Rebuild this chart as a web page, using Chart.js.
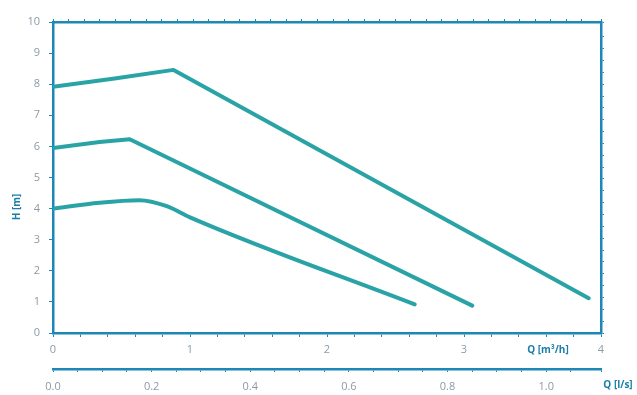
<!DOCTYPE html>
<html>
<head>
<meta charset="utf-8">
<title>Pump curves</title>
<script src="https://cdn.jsdelivr.net/npm/chart.js@4/dist/chart.umd.min.js"></script>
<style>
    html, body { margin: 0; padding: 0; background: #ffffff; }
    canvas { display: block; }
</style>
</head>
<body>
<canvas id="pumpChart" width="637" height="395"></canvas>
<script>
/*global Chart, document*/
'use strict';

// ------------------------------------------------------- //
// Data (Q in m3/h, H in m)
// ------------------------------------------------------ //
var flowHigh = [0, 0.45, 0.88, 3.91];
var headHigh = [7.92, 8.18, 8.46, 1.12];

var flowMid = [0, 0.34, 0.56, 3.06];
var headMid = [5.95, 6.14, 6.23, 0.88];

var flowLow = [0, 0.34, 0.63, 0.83, 1.0, 2.64];
var headLow = [4.0, 4.19, 4.27, 4.08, 3.72, 0.92];

var headTicks = [0, 1, 2, 3, 4, 5, 6, 7, 8, 9, 10];
var flowLabels = [0, 1, 2, 3, 4];
var litreLabels = [0, 0.2, 0.4, 0.6, 0.8, 1.0];

// Template colors
var curveColor = '#2aa3a6';
var axisColor = '#1d88b6';
var tickText = '#8c9ba6';
var titleColor = '#1a7eaa';

function toPoints(xs, ys) {
    var pts = [];
    for (var i = 0; i < xs.length; i++) {
        pts.push({x: xs[i], y: ys[i]});
    }
    return pts;
}

function inList(list, v) {
    for (var i = 0; i < list.length; i++) {
        if (Math.abs(list[i] - v) < 1e-6) {
            return true;
        }
    }
    return false;
}

function curve(label, xs, ys, smooth) {
    return {
        label: label,
        data: toPoints(xs, ys),
        borderColor: curveColor,
        backgroundColor: curveColor,
        borderWidth: 4,
        borderCapStyle: 'round',
        borderJoinStyle: 'round',
        pointRadius: 0,
        fill: false,
        cubicInterpolationMode: smooth ? 'monotone' : 'default',
        tension: 0
    };
}

function axisGrid(len) {
    return {
        drawOnChartArea: false,
        color: axisColor,
        lineWidth: 1,
        tickLength: len
    };
}

var axisBorder = { color: axisColor, width: 2.5 };
var tickFont = { family: 'Open Sans', size: 11 };

// ------------------------------------------------------- //
// Axis titles
// ------------------------------------------------------ //
var axisTitles = {
    id: 'axisTitles',
    afterDraw: function (chart) {
        var ctx = chart.ctx;
        var area = chart.chartArea;
        ctx.save();
        ctx.fillStyle = titleColor;
        ctx.font = 'bold 10px "Open Sans"';
        ctx.textBaseline = 'middle';
        ctx.textAlign = 'center';
        ctx.fillText('Q [m\u00b3/h]', area.right - 53, area.bottom + 17);
        ctx.fillText('Q [l/s]', area.right + 17, area.bottom + 52);
        ctx.translate(17, 207);
        ctx.rotate(-Math.PI / 2);
        ctx.fillText('H [m]', 0, 0);
        ctx.restore();
    }
};

// ------------------------------------------------------- //
// Pump Chart
// ------------------------------------------------------ //
var PUMPCHART = document.getElementById('pumpChart');
var pumpChart = new Chart(PUMPCHART, {
    type: 'line',
    plugins: [axisTitles],
    data: {
        datasets: [
            curve('High', flowHigh, headHigh, false),
            curve('Mid', flowMid, headMid, false),
            curve('Low', flowLow, headLow, true)
        ]
    },
    options: {
        responsive: false,
        animation: false,
        devicePixelRatio: 1,
        layout: { padding: 0 },
        plugins: {
            legend: { display: false },
            tooltip: { enabled: false }
        },
        scales: {
            x: {
                type: 'linear',
                position: 'bottom',
                weight: 0,
                min: 0,
                max: 4,
                border: axisBorder,
                grid: axisGrid(4),
                ticks: {
                    stepSize: 0.2,
                    color: tickText,
                    font: tickFont,
                    padding: 6,
                    maxRotation: 0,
                    autoSkip: false,
                    callback: function (v) {
                        return inList(flowLabels, v) ? String(Math.round(v)) : '';
                    }
                },
                afterFit: function (scale) { scale.height = 36; }
            },
            x2: {
                type: 'linear',
                position: 'bottom',
                weight: 1,
                min: 0,
                max: 4 / 3.6,
                border: axisBorder,
                grid: axisGrid(3),
                ticks: {
                    stepSize: 0.05,
                    color: tickText,
                    font: tickFont,
                    padding: 8,
                    maxRotation: 0,
                    autoSkip: false,
                    callback: function (v) {
                        return inList(litreLabels, v) ? v.toFixed(1) : '';
                    }
                },
                afterFit: function (scale) { scale.height = 26; }
            },
            xTop: {
                type: 'linear',
                position: 'top',
                min: 0,
                max: 4 * 4.4029,
                border: axisBorder,
                grid: axisGrid(3),
                ticks: { stepSize: 0.5, display: false, autoSkip: false },
                afterFit: function (scale) { scale.height = 22; }
            },
            y: {
                type: 'linear',
                position: 'left',
                min: 0,
                max: 10,
                border: axisBorder,
                grid: axisGrid(4),
                ticks: {
                    stepSize: 1,
                    color: tickText,
                    font: tickFont,
                    padding: 9,
                    callback: function (v) {
                        return inList(headTicks, v) ? String(v) : '';
                    }
                },
                afterFit: function (scale) { scale.width = 53; }
            },
            yRight: {
                type: 'linear',
                position: 'right',
                min: 0,
                max: 32.81,
                border: axisBorder,
                grid: axisGrid(3),
                ticks: { stepSize: 1.25, display: false, autoSkip: false },
                afterFit: function (scale) { scale.width = 36; }
            }
        }
    }
});
</script>
</body>
</html>
